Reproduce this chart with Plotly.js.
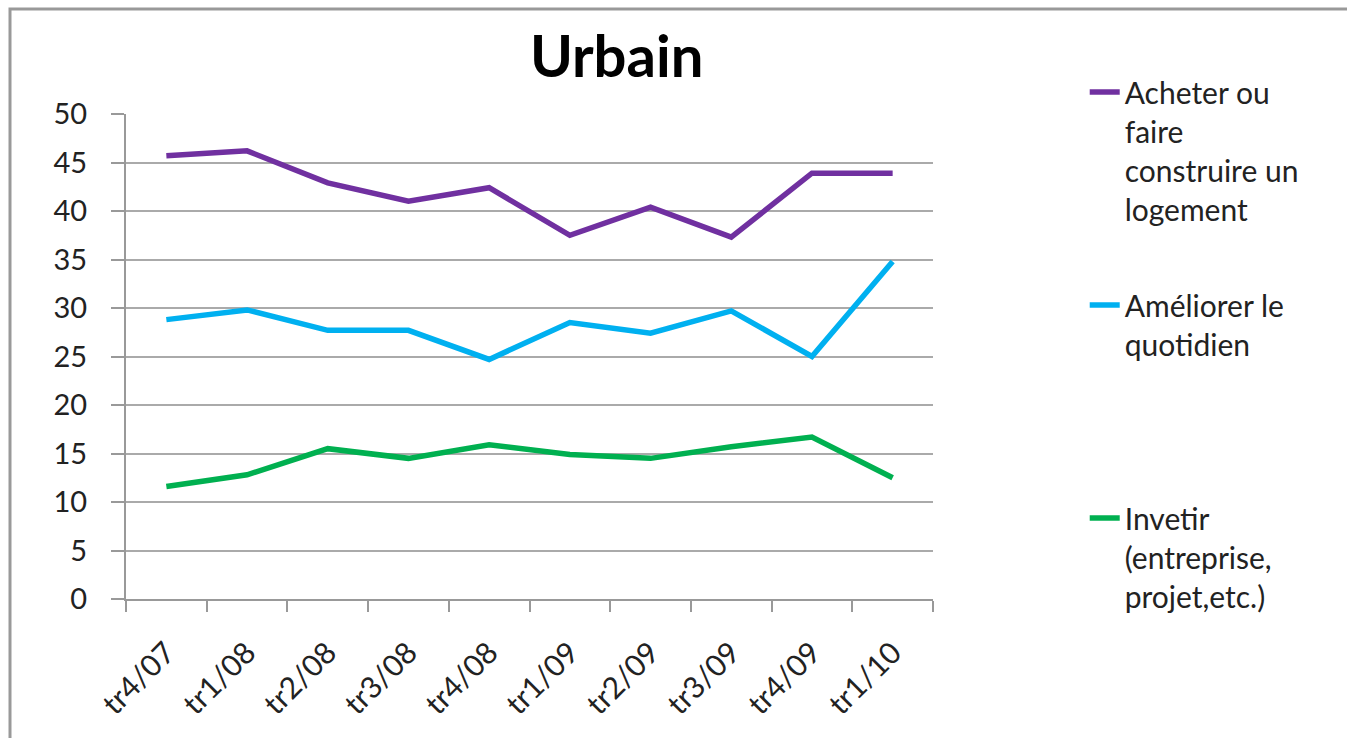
<!DOCTYPE html>
<html>
<head>
<meta charset="utf-8">
<script src="https://cdn.plot.ly/plotly-3.0.1.min.js"></script>
<style>html,body{margin:0;padding:0;background:#fff;}#chart{width:1347px;height:738px;}</style>
</head>
<body>
<div id="chart"></div>
<script>
const categories = ["tr4/07","tr1/08","tr2/08","tr3/08","tr4/08","tr1/09","tr2/09","tr3/09","tr4/09","tr1/10"];
const acheter = [45.7, 46.2, 42.9, 41.0, 42.4, 37.5, 40.4, 37.3, 43.9, 43.9];
const ameliorer = [28.8, 29.8, 27.7, 27.7, 24.7, 28.5, 27.4, 29.7, 25.0, 34.8];
const investir = [11.6, 12.8, 15.5, 14.5, 15.9, 14.9, 14.5, 15.7, 16.7, 12.5];
const seriesNames = [
  "Acheter ou<br>faire<br>construire un<br>logement",
  "Améliorer le<br>quotidien<br>&nbsp;<br>&nbsp;",
  "Invetir<br>(entreprise,<br>projet,etc.)"
];
const yTicks = [0,5,10,15,20,25,30,35,40,45,50];

const colors = ["#7030A0", "#00B0F0", "#00B050"];
const values = [acheter, ameliorer, investir];
const traces = values.map((v, i) => ({
  type: "scatter",
  mode: "lines",
  x: categories,
  y: v,
  name: seriesNames[i],
  legendgroup: "g" + i,
  line: {color: colors[i], width: 5.5}
}));

const font = "Lato, 'Open Sans', sans-serif";
const layout = {
  width: 1347, height: 738,
  margin: {l: 126, r: 414, t: 114, b: 139},
  paper_bgcolor: "#fff", plot_bgcolor: "#fff",
  font: {family: font, color: "#222", size: 28},
  showlegend: true,
  title: {
    text: "<b>Urbain</b>",
    font: {family: font, size: 58, color: "#000"},
    x: 0.608, xref: "paper", xanchor: "center",
    y: 1.115, yref: "paper", yanchor: "middle"
  },
  xaxis: {
    type: "category",
    tickson: "boundaries",
    ticks: "outside", ticklen: 11, tickwidth: 2, tickcolor: "#999",
    showline: true, linecolor: "#999", linewidth: 2,
    showgrid: false, zeroline: false,
    tickangle: -45,
    ticklabelstandoff: 22,
    tickfont: {family: font, size: 30, color: "#222"},
    range: [-0.5, 9.5]
  },
  yaxis: {
    range: [0, 50],
    tickvals: yTicks,
    ticktext: yTicks.map(String),
    ticks: "outside", ticklen: 13, tickwidth: 2, tickcolor: "#999",
    showline: true, linecolor: "#999", linewidth: 2,
    showgrid: true, gridcolor: "#aaa", gridwidth: 2,
    zeroline: false,
    ticklabelstandoff: 18,
    tickfont: {family: font, size: 29, color: "#222"}
  },
  legend: {
    x: 1.188, xanchor: "left", xref: "paper",
    y: 1.099, yanchor: "top", yref: "paper",
    valign: "top",
    tracegroupgap: 54,
    maxheight: 738,
    font: {family: font, size: 30, color: "#222"},
    bgcolor: "rgba(0,0,0,0)"
  },
  shapes: [{
    type: "rect", xref: "paper", yref: "paper",
    x0: (10 - 126) / 807, x1: (1400 - 126) / 807,
    y0: (599 - 800) / 485, y1: (599 - 9) / 485,
    line: {color: "#999", width: 3}, fillcolor: "rgba(0,0,0,0)", layer: "below"
  }]
};

Plotly.newPlot("chart", traces, layout, {displayModeBar: false, staticPlot: true});
</script>
</body>
</html>
